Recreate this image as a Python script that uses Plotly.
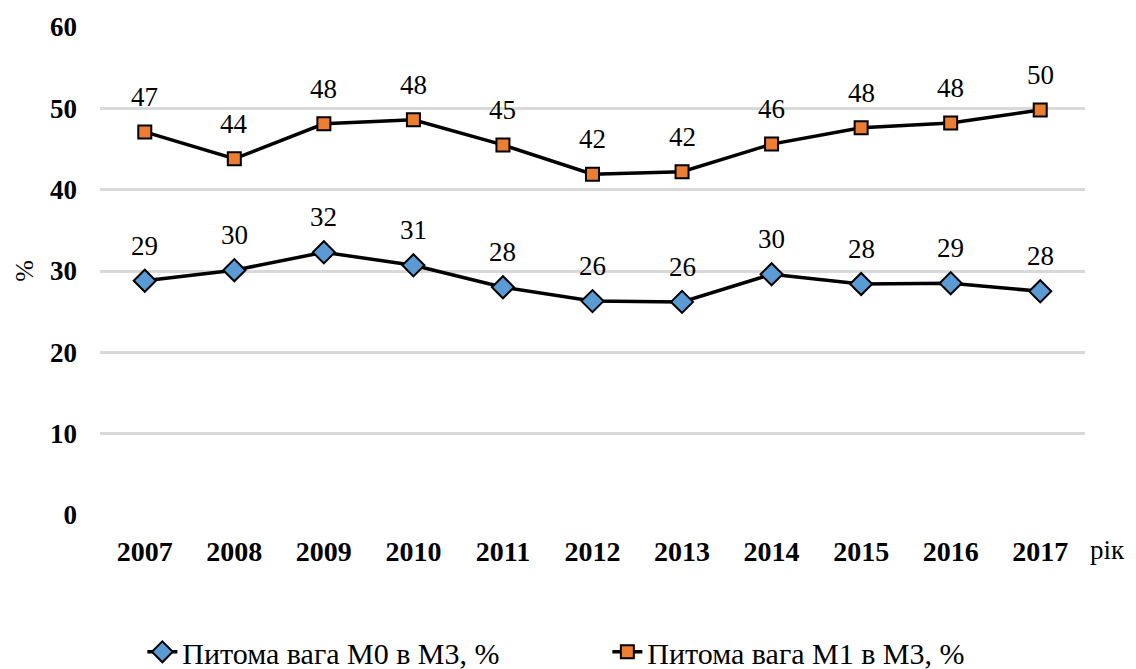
import plotly.graph_objects as go

years = ["2007", "2008", "2009", "2010", "2011", "2012", "2013", "2014", "2015", "2016", "2017"]
m0 = [28.8, 30.1, 32.3, 30.7, 28.0, 26.3, 26.2, 29.6, 28.4, 28.5, 27.5]
m1 = [47.1, 43.8, 48.1, 48.6, 45.5, 41.9, 42.2, 45.6, 47.6, 48.2, 49.8]
m0_labels = ["29", "30", "32", "31", "28", "26", "26", "30", "28", "29", "28"]
m1_labels = ["47", "44", "48", "48", "45", "42", "42", "46", "48", "48", "50"]
name_m0 = "Питома вага М0 в М3, %"
name_m1 = "Питома вага М1 в М3, %"

FONT = "Liberation Serif, Times New Roman, serif"

fig = go.Figure()
fig.add_trace(go.Scatter(
    x=years, y=m0, name=name_m0, mode="lines+markers",
    line=dict(color="black", width=3.5),
    marker=dict(symbol="diamond", size=17, color="#5b9bd5", line=dict(color="black", width=2)),
))
fig.add_trace(go.Scatter(
    x=years, y=m1, name=name_m1, mode="lines+markers",
    line=dict(color="black", width=3.5),
    marker=dict(symbol="square", size=13, color="#ed7d31", line=dict(color="black", width=2)),
))

annotations = []
for ys, labs in [(m0, m0_labels), (m1, m1_labels)]:
    for i, (y, t) in enumerate(zip(ys, labs)):
        annotations.append(dict(x=i, y=y, xref="x", yref="y", text=t, showarrow=False, yshift=35,
                                font=dict(family=FONT, size=27, color="black")))
annotations.append(dict(xref="paper", yref="paper", x=1.0, y=0, xanchor="left", yanchor="middle",
                        xshift=3, yshift=-35, text="рік", showarrow=False,
                        font=dict(family=FONT, size=27, color="black")))

fig.update_layout(
    width=1128, height=661,
    paper_bgcolor="white", plot_bgcolor="white",
    margin=dict(l=92, r=51, t=19, b=154, autoexpand=False),
    font=dict(family=FONT, size=26, color="black"),
    showlegend=True,
    legend=dict(orientation="h", x=0.043, xanchor="left", yref="container", y=0.026, yanchor="middle",
                font=dict(family=FONT, size=30, color="black"),
                entrywidth=420, entrywidthmode="pixels", tracegroupgap=0),
    annotations=annotations,
)
fig.update_xaxes(type="category", range=[-0.5, 10.5], showgrid=False, showline=False, automargin=False,
                 ticks="", tickfont=dict(family=FONT, size=28, color="black", weight="bold"),
                 ticklabelstandoff=17)
fig.update_yaxes(range=[0, 60], dtick=10, showgrid=True, gridcolor="#d9d9d9", gridwidth=3,
                 zeroline=False, showline=False, ticks="", automargin=False,
                 tickfont=dict(family=FONT, size=27, color="black", weight="bold"),
                 ticklabelstandoff=22,
                 title=dict(text="%", font=dict(family=FONT, size=26, color="black"), standoff=8))

fig.write_html("out.html")
